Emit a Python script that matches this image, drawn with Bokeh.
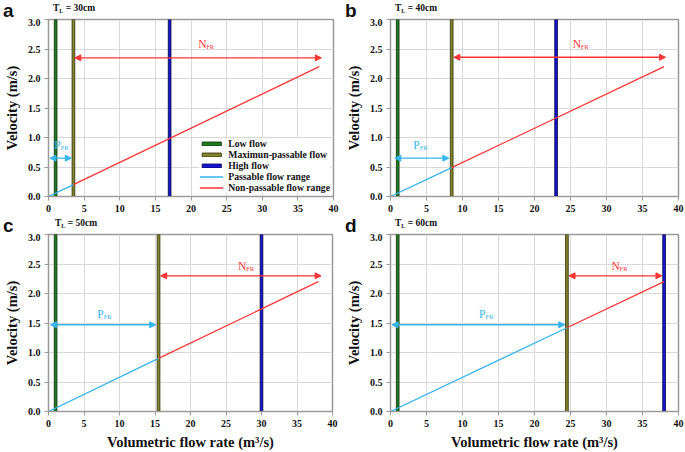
from bokeh.plotting import figure
from bokeh.layouts import column, row
from bokeh.models import (Label, Arrow, NormalHead, Legend, LegendItem, Div,
                          FixedTicker, NumeralTickFormatter, Range1d)
from bokeh.embed import file_html
from bokeh.resources import INLINE

# ---------------- data ----------------
panels = ["a", "b", "c", "d"]
tl_depth = ["30cm", "40cm", "50cm", "60cm"]
low_flow = [1.0, 1.0, 1.0, 1.0]
max_passable = [3.5, 8.5, 15.5, 24.5]
high_flow = [17.0, 23.0, 30.0, 38.0]
v_at_max_passable = [0.20, 0.49, 0.90, 1.42]
q_start, v_start = 0.0, 0.0
q_end, v_end = 38.0, 2.2
pfr_y = [0.65, 0.65, 1.47, 1.47]
pfr_x0 = [0.2, 0.6, 0.3, 0.2]
pfr_x1 = [3.2, 8.1, 15.1, 24.2]
nfr_y = [2.35, 2.36, 2.30, 2.30]
nfr_x0 = [3.7, 8.8, 15.8, 24.8]
nfr_x1 = [38.3, 38.2, 38.4, 37.7]
pfr_label_x = [0.8, 3.15, 6.85, 12.3]
pfr_label_y = [0.88, 0.88, 1.66, 1.66]
nfr_label_x = [21.0, 25.3, 26.7, 30.7]
nfr_label_y = [2.59, 2.59, 2.47, 2.47]
x_ticks = [0, 5, 10, 15, 20, 25, 30, 35, 40]
y_ticks = [0.0, 0.5, 1.0, 1.5, 2.0, 2.5, 3.0]
legend_labels = ["Low flow", "Maximun-passable flow", "High flow",
                 "Passable flow range", "Non-passable flow range"]

# ---------------- style ----------------
SERIF = "Liberation Serif"
SANS = "Liberation Sans"
C_LOW, C_LOW_E = "#1f7a1f", "#0b2e0b"
C_MAX, C_MAX_E = "#83832a", "#2e2e0b"
C_HIGH, C_HIGH_E = "#1515d5", "#05053a"
C_PASS = "#36b4ec"
C_NON = "#ff3535"
GRID = "#d9d9d9"
FRAME = "#9a9a9a"

HEAD_H = 18
# layout per panel: width, height, borders (left, right, top, bottom), header text x
geo = [
    dict(w=340, h=197, bl=46, br=7, bt=1, bb=19, lx=3, tx=53),
    dict(w=345, h=197, bl=50, br=7, bt=1, bb=19, lx=5, tx=55),
    dict(w=340, h=219, bl=44, br=8, bt=1, bb=41, lx=3, tx=55),
    dict(w=345, h=219, bl=50, br=7, bt=1, bb=41, lx=5, tx=55),
]


def make_header(i):
    g = geo[i]
    html = (
        f'<div style="position:relative;width:{g["w"]}px;height:{HEAD_H}px;">'
        f'<span style="position:absolute;left:{g["lx"]}px;top:0px;'
        f'font-family:\'{SANS}\';font-weight:bold;font-size:19px;line-height:21px;'
        f'color:#111111;">{panels[i]}</span>'
        f'<span style="position:absolute;left:{g["tx"]}px;top:3px;white-space:nowrap;'
        f'font-family:\'{SERIF}\';font-weight:bold;font-size:9.5px;line-height:10px;'
        f'color:#111111;">T<sub style="font-size:6px;vertical-align:-2px;">L</sub>'
        f' = {tl_depth[i]}</span></div>'
    )
    return Div(text=html, width=g["w"], height=HEAD_H, margin=(0, 0, 0, 0))


def make_panel(i):
    g = geo[i]
    p = figure(width=g["w"], height=g["h"], output_backend="svg",
               toolbar_location=None, x_range=Range1d(0, 40),
               y_range=Range1d(0, 3.0), min_border_left=g["bl"],
               min_border_right=g["br"], min_border_top=g["bt"],
               min_border_bottom=g["bb"])
    p.outline_line_color = FRAME
    p.outline_line_width = 1.5
    p.background_fill_color = "white"
    p.border_fill_color = "white"
    p.xgrid.grid_line_color = GRID
    p.ygrid.grid_line_color = GRID
    p.xaxis.ticker = FixedTicker(ticks=x_ticks)
    p.yaxis.ticker = FixedTicker(ticks=y_ticks)
    p.yaxis.formatter = NumeralTickFormatter(format="0.0")
    for ax in (p.xaxis, p.yaxis):
        ax.axis_line_color = FRAME
        ax.major_tick_line_color = FRAME
        ax.major_tick_out = 4
        ax.major_tick_in = 0
        ax.minor_tick_line_color = None
        ax.major_label_text_font = SERIF
        ax.major_label_text_font_style = "bold"
        ax.major_label_text_font_size = "10px"
        ax.major_label_text_color = "#111111"
        ax.major_label_standoff = 4
        ax.axis_label_text_font = SERIF
        ax.axis_label_text_font_style = "bold"
        ax.axis_label_text_font_size = "14.5px"
        ax.axis_label_text_color = "#111111"
    p.yaxis.axis_label = "Velocity (m/s)"
    p.yaxis.axis_label_standoff = 5
    if i >= 2:
        p.xaxis.axis_label = "Volumetric flow rate (m³/s)"
        p.xaxis.axis_label_standoff = 4

    # vertical flow bars
    r_low = p.vbar(x=[low_flow[i]], top=[3.0], bottom=[0.0], width=0.38,
                   fill_color=C_LOW, line_color=C_LOW_E, line_width=0.8)
    r_max = p.vbar(x=[max_passable[i]], top=[3.0], bottom=[0.0], width=0.38,
                   fill_color=C_MAX, line_color=C_MAX_E, line_width=0.8)
    r_high = p.vbar(x=[high_flow[i]], top=[3.0], bottom=[0.0], width=0.38,
                    fill_color=C_HIGH, line_color=C_HIGH_E, line_width=0.8)

    # velocity line split into passable / non-passable parts
    r_pass = p.line([q_start, max_passable[i]], [v_start, v_at_max_passable[i]],
                    line_color=C_PASS, line_width=1.3)
    r_non = p.line([max_passable[i], q_end], [v_at_max_passable[i], v_end],
                   line_color=C_NON, line_width=1.3)

    # range arrows
    p.add_layout(Arrow(start=NormalHead(size=6, fill_color=C_PASS, line_color=C_PASS),
                       end=NormalHead(size=6, fill_color=C_PASS, line_color=C_PASS),
                       x_start=pfr_x0[i], y_start=pfr_y[i], x_end=pfr_x1[i],
                       y_end=pfr_y[i], line_color=C_PASS, line_width=1.3))
    p.add_layout(Arrow(start=NormalHead(size=6, fill_color=C_NON, line_color=C_NON),
                       end=NormalHead(size=6, fill_color=C_NON, line_color=C_NON),
                       x_start=nfr_x0[i], y_start=nfr_y[i], x_end=nfr_x1[i],
                       y_end=nfr_y[i], line_color=C_NON, line_width=1.3))

    # P_FR / N_FR labels with subscripts
    for (lx, ly, main, col, dx) in ((pfr_label_x[i], pfr_label_y[i], "P", C_PASS, 6.5),
                                    (nfr_label_x[i], nfr_label_y[i], "N", C_NON, 8)):
        p.add_layout(Label(x=lx, y=ly, text=main, text_font=SERIF,
                           text_font_size="11.5px", text_color=col,
                           text_baseline="middle", text_align="left"))
        p.add_layout(Label(x=lx, y=ly, text="FR", text_font=SERIF,
                           text_font_size="6.5px", text_color=col,
                           text_baseline="middle", text_align="left",
                           x_offset=dx, y_offset=-3))

    if i == 0:
        legend = Legend(items=[
            LegendItem(label=legend_labels[0], renderers=[r_low]),
            LegendItem(label=legend_labels[1], renderers=[r_max]),
            LegendItem(label=legend_labels[2], renderers=[r_high]),
            LegendItem(label=legend_labels[3], renderers=[r_pass]),
            LegendItem(label=legend_labels[4], renderers=[r_non]),
        ], location="bottom_right")
        legend.border_line_color = None
        legend.background_fill_alpha = 1.0
        legend.margin = 3
        legend.padding = 4
        legend.spacing = 0
        legend.glyph_width = 24
        legend.glyph_height = 5
        legend.label_height = 10
        legend.label_standoff = 5
        legend.label_text_font = SERIF
        legend.label_text_font_style = "bold"
        legend.label_text_font_size = "9.7px"
        legend.label_text_color = "#111111"
        legend.label_text_line_height = 1.0
        p.add_layout(legend)
    return p


heads = [make_header(i) for i in range(4)]
figs = [make_panel(i) for i in range(4)]
layout = column(row(heads[0], heads[1]), row(figs[0], figs[1]),
                row(heads[2], heads[3]), row(figs[2], figs[3]))
open("out.html", "w").write(file_html(layout, INLINE))
